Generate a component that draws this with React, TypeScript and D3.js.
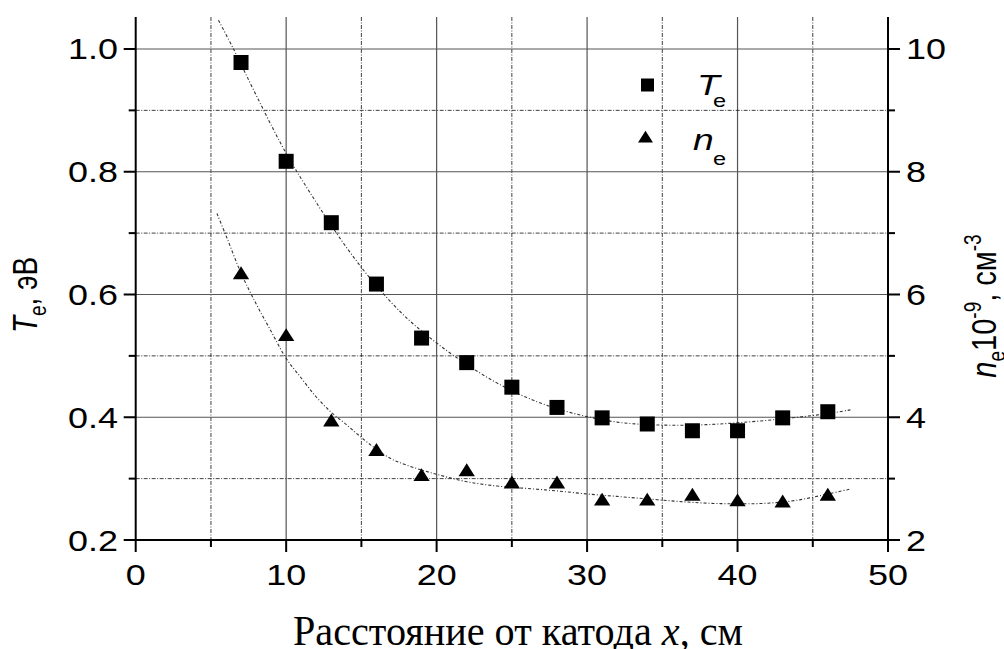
import React from "react";
import * as d3 from "d3";

const xPos = [7, 10, 13, 16, 19, 22, 25, 28, 31, 34, 37, 40, 43, 46];
const teVals = [0.978, 0.817, 0.717, 0.617, 0.529, 0.489, 0.449, 0.416, 0.399, 0.389, 0.378, 0.378, 0.399, 0.409];
const neVals = [6.32, 5.31, 3.92, 3.44, 3.03, 3.11, 2.91, 2.91, 2.63, 2.63, 2.71, 2.62, 2.6, 2.71];

const fitTeX = [5.5, 6.5, 8, 10, 12, 14, 16, 18, 20, 22, 24, 26, 28, 30, 32, 34, 36, 38, 40, 42, 44, 46, 47.5];
const fitTeY = [1.047, 1.0, 0.925, 0.83, 0.75, 0.677, 0.614, 0.562, 0.521, 0.486, 0.456, 0.432, 0.414, 0.401, 0.392, 0.388, 0.387, 0.388, 0.391, 0.395, 0.4, 0.406, 0.412];

const fitNeX = [5.4, 6, 7, 8, 9, 10, 11, 12, 13, 14, 15, 16, 17, 18, 20, 22, 24, 26, 28, 30, 32, 34, 36, 38, 40, 42, 44, 46, 47.5];
const fitNeY = [7.32, 6.96, 6.35, 5.85, 5.4, 4.96, 4.64, 4.33, 4.08, 3.88, 3.67, 3.48, 3.32, 3.22, 3.07, 2.95, 2.88, 2.84, 2.8, 2.75, 2.71, 2.67, 2.63, 2.6, 2.59, 2.6, 2.65, 2.75, 2.83];

const xMajor = [0, 10, 20, 30, 40, 50];
const xMinor = [5, 15, 25, 35, 45];
const yMajor = [0.2, 0.4, 0.6, 0.8, 1.0];
const yMinor = [0.3, 0.5, 0.7, 0.9];
const rMajor = [2, 4, 6, 8, 10];
const rMinor = [3, 5, 7, 9];

const SX = 1.24;
const SANS = "'Liberation Sans', Arial, sans-serif";

export default function App() {
  const x = d3.scaleLinear().domain([0, 50]).range([135.7, 888]);
  const y = d3.scaleLinear().domain([0.2, 1.05]).range([540, 18.3]);
  const yr = d3.scaleLinear().domain([2, 10.5]).range([540, 18.3]);
  const top = 17;

  const lineT = d3
    .line<number>()
    .x((_, i) => x(fitTeX[i]))
    .y((d) => y(d))
    .curve(d3.curveCatmullRom);
  const lineN = d3
    .line<number>()
    .x((_, i) => x(fitNeX[i]))
    .y((d) => yr(d))
    .curve(d3.curveCatmullRom);

  const tri = d3.symbol().type(d3.symbolTriangle).size(95)();
  const triLeg = d3.symbol().type(d3.symbolTriangle).size(80)();

  const minorDash = "4,1.5,1,1.5";
  const gridCol = "#555";

  return (
    <svg width={1004} height={649} style={{ position: "absolute", left: 0, top: 0, background: "#fff" }} fontFamily={SANS}>
      <rect x={0} y={0} width={1004} height={649} fill="#fff" />
      {/* grid */}
      {xMinor.map((v) => (
        <line key={"gxm" + v} x1={x(v)} x2={x(v)} y1={top} y2={540} stroke="#111" strokeWidth={0.8} strokeDasharray={minorDash} />
      ))}
      {xMajor.slice(1, 5).map((v) => (
        <line key={"gx" + v} x1={x(v)} x2={x(v)} y1={top} y2={540} stroke={gridCol} strokeWidth={1.2} />
      ))}
      {yMinor.map((v) => (
        <line key={"gym" + v} x1={x(0)} x2={x(50)} y1={y(v)} y2={y(v)} stroke="#111" strokeWidth={0.8} strokeDasharray={minorDash} />
      ))}
      {yMajor.slice(1).map((v) => (
        <line key={"gy" + v} x1={x(0)} x2={x(50)} y1={y(v)} y2={y(v)} stroke={gridCol} strokeWidth={1.2} />
      ))}

      {/* fit curves */}
      <path d={lineT(fitTeY) || ""} fill="none" stroke="#333" strokeWidth={1.1} strokeDasharray="3,2,1,2" />
      <path d={lineN(fitNeY) || ""} fill="none" stroke="#333" strokeWidth={1.1} strokeDasharray="3,2,1,2" />

      {/* axes */}
      <line x1={x(0)} x2={x(0)} y1={top} y2={541} stroke="#000" strokeWidth={2} />
      <line x1={x(50)} x2={x(50)} y1={top} y2={541} stroke="#000" strokeWidth={2} />
      <line x1={x(0) - 1} x2={x(50) + 1} y1={540} y2={540} stroke="#000" strokeWidth={2} />
      {yMajor.map((v) => (
        <line key={"lt" + v} x1={x(0) - 12} x2={x(0)} y1={y(v)} y2={y(v)} stroke="#000" strokeWidth={2} />
      ))}
      {yMinor.map((v) => (
        <line key={"ltm" + v} x1={x(0) - 7} x2={x(0)} y1={y(v)} y2={y(v)} stroke="#000" strokeWidth={2} />
      ))}
      {rMajor.map((v) => (
        <line key={"rt" + v} x1={x(50)} x2={x(50) + 12} y1={yr(v)} y2={yr(v)} stroke="#000" strokeWidth={2} />
      ))}
      {rMinor.map((v) => (
        <line key={"rtm" + v} x1={x(50)} x2={x(50) + 7} y1={yr(v)} y2={yr(v)} stroke="#000" strokeWidth={2} />
      ))}
      {xMajor.map((v) => (
        <line key={"bt" + v} x1={x(v)} x2={x(v)} y1={540} y2={552} stroke="#000" strokeWidth={2} />
      ))}
      {xMinor.map((v) => (
        <line key={"btm" + v} x1={x(v)} x2={x(v)} y1={540} y2={547} stroke="#000" strokeWidth={2} />
      ))}

      {/* tick labels */}
      {yMajor.map((v) => (
        <text key={"ly" + v} transform={`translate(118,${y(v) + 10.5}) scale(${SX},1)`} textAnchor="end" fontSize={29}>
          {v.toFixed(1)}
        </text>
      ))}
      {rMajor.map((v) => (
        <text key={"ry" + v} transform={`translate(906,${yr(v) + 10.5}) scale(${SX},1)`} textAnchor="start" fontSize={29}>
          {v}
        </text>
      ))}
      {xMajor.map((v) => (
        <text key={"lx" + v} transform={`translate(${x(v)},585) scale(${SX},1)`} textAnchor="middle" fontSize={29}>
          {v}
        </text>
      ))}

      {/* markers */}
      {xPos.map((v, i) => (
        <rect key={"sq" + i} x={x(v) - 7.5} y={y(teVals[i]) - 7.5} width={15} height={15} fill="#000" />
      ))}
      {xPos.map((v, i) => (
        <path key={"tr" + i} d={tri || ""} transform={`translate(${x(v)},${yr(neVals[i])}) scale(1.1,1)`} fill="#000" />
      ))}

      {/* legend */}
      <rect x={641} y={78.5} width={13} height={13} fill="#000" />
      <text transform={`translate(697,95) scale(${SX},1)`} fontSize={30} fontStyle="italic">T</text>
      <text transform={`translate(713,107) scale(${SX},1)`} fontSize={19}>e</text>
      <path d={triLeg || ""} transform="translate(645.5,138.5) scale(1.1,1)" fill="#000" />
      <text transform={`translate(693,150) scale(${SX},1)`} fontSize={30} fontStyle="italic">n</text>
      <text transform={`translate(713,165) scale(${SX},1)`} fontSize={19}>e</text>

      {/* axis titles */}
      <g transform={`translate(37,295) scale(${SX},1) rotate(-90)`}>
        <text textAnchor="middle" fontSize={28}>
          <tspan fontStyle="italic">T</tspan>
          <tspan fontSize={19} dy={7}>e</tspan>
          <tspan dy={-7}>, эВ</tspan>
        </text>
      </g>
      <g transform={`translate(996,306) scale(${SX},1) rotate(-90)`}>
        <text textAnchor="middle" fontSize={29}>
          <tspan fontStyle="italic">n</tspan>
          <tspan fontSize={19} dy={7}>e</tspan>
          <tspan dy={-7}>10</tspan>
          <tspan fontSize={19} dy={-12}>-9</tspan>
          <tspan dy={12}>, см</tspan>
          <tspan fontSize={19} dy={-12}>-3</tspan>
        </text>
      </g>
      <text x={518} y={645} textAnchor="middle" fontFamily="'Liberation Serif', 'Times New Roman', serif" fontSize={43} textLength={450} lengthAdjust="spacingAndGlyphs">
        Расстояние от катода <tspan fontStyle="italic">x</tspan>, см
      </text>
    </svg>
  );
}
